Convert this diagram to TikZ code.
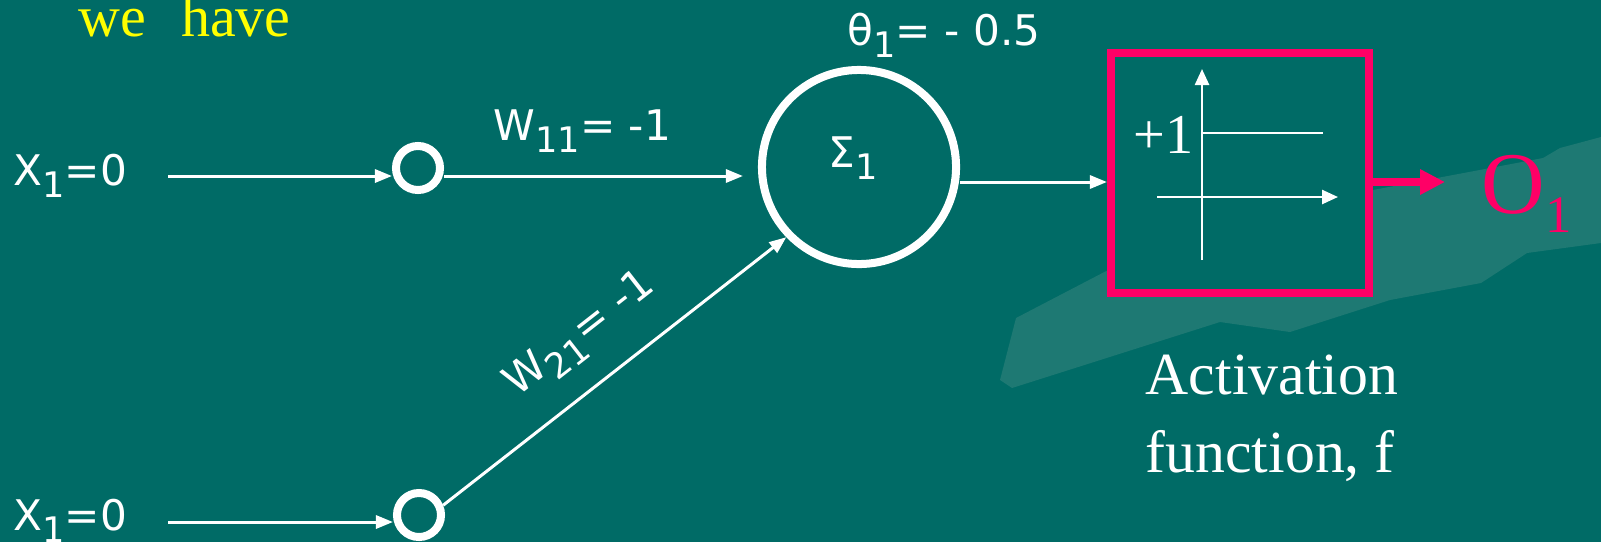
\documentclass[tikz,border=0pt]{standalone}
\usepackage{fontspec}
\setmainfont{Liberation Serif}
\setsansfont{DejaVu Sans}
\usetikzlibrary{arrows.meta, positioning, calc}

\definecolor{slidebg}{RGB}{0,107,102}
\definecolor{slidewave}{RGB}{30,121,115}
\definecolor{hotpink}{RGB}{255,0,102}
\definecolor{titleyellow}{RGB}{255,255,0}

\newcommand{\lowsub}[1]{\raisebox{-0.3em}{\fontsize{10}{12}\selectfont #1}}

\begin{document}
\begin{tikzpicture}[
  x=0.01cm, y=-0.01cm,
  every node/.style={text=white, inner sep=0pt},
  sanslab/.style={font=\fontsize{12}{14}\selectfont\sffamily},
  seriflab/.style={font=\fontsize{17}{22}\selectfont\rmfamily},
  wire/.style={white, line width=0.03cm, -{Triangle[length=0.17cm, width=0.13cm]}},
  axis/.style={white, line width=0.025cm},
  inpt/.style={circle, draw=white, line width=0.08cm, minimum size=0.44cm},
  neuron/.style={circle, draw=white, line width=0.08cm, minimum size=1.94cm},
  actbox/.style={draw=hotpink, fill=slidebg, line width=0.08cm, minimum width=2.58cm, minimum height=2.40cm},
  outarrow/.style={hotpink, line width=0.08cm, -{Triangle[length=0.25cm, width=0.24cm]}}
]

%% ---- Slide background ----
\useasboundingbox (0,0) rectangle (1601,542);
\fill[slidebg] (0,0) rectangle (1601,542);
\fill[slidewave] (1000,380) -- (1016,318) -- (1112,268) -- (1373,190) -- (1469,172)
  -- (1543,158) -- (1560,148) -- (1601,137) -- (1601,243) -- (1527,253)
  -- (1481,283) -- (1390,300) -- (1290,332) -- (1220,322) -- (1012,388) -- cycle;

%% ---- Title ----
\node[font=\fontsize{16.5}{19}\selectfont\rmfamily, text=titleyellow, anchor=base west]
  (title) at (78,36) {we\hspace{0.6em}have};

%% ---- Inputs ----
\node[sanslab, anchor=base west] (x1) at (13,185) {X\lowsub{1}=0};
\node[sanslab, anchor=base west] (x2) at (13,530) {X\lowsub{1}=0};
\coordinate (feed1) at (168,176);
\coordinate (feed2) at (168,522);

\node[inpt] (in1) at (418,168) {};
\node[inpt] (in2) at (419,515) {};

%% ---- Summing unit ----
\node[neuron] (sum) at (859,167) {};
\node[sanslab] (sigma) at (853,158) {Σ\lowsub{1}};
\node[sanslab, anchor=base west] (theta) at (847,45) {θ\lowsub{1}= - 0.5};

%% ---- Activation box ----
\node[actbox] (act) at (1240,173) {};
\draw[axis, -{Triangle[length=0.16cm, width=0.14cm]}] (1202,260) -- (1202,69);
\draw[axis, -{Triangle[length=0.16cm, width=0.14cm]}] (1157,197) -- (1338,197);
\draw[axis] (1202,133) -- (1323,133);
\node[font=\fontsize{16}{18}\selectfont\rmfamily, anchor=base east] (plusone) at (1194,153) {+1};
\node[seriflab, anchor=base west, align=left] (actlab) at (1145,472) {Activation\\function, f};

%% ---- Output ----
\coordinate (otip) at (1445,182);
\node[font=\fontsize{25}{28}\selectfont\rmfamily, text=hotpink, anchor=base west]
  (o1) at (1481,213) {O\raisebox{-0.22em}{\fontsize{15}{18}\selectfont 1}};

%% ---- Connectors ----
\draw[wire] (feed1) -- (feed1 -| in1.west);
\draw[wire] (feed2) -- (feed2 -| in2.west);
\draw[wire] (in1.east |- feed1) -- ([xshift=-0.15cm]sum.west |- feed1);
\node[sanslab, anchor=base west] (w11) at (493,140) {W\lowsub{11}= -1};
\draw[wire] (in2.22) -- node[sanslab, sloped, above=0.25cm, pos=0.49] (w21) {W\lowsub{21}= -1} (sum.224);
\draw[wire] ([yshift=-0.15cm]sum.east) -- ([yshift=-0.15cm]sum.east -| act.west);
\draw[outarrow] (act.east |- otip) -- (otip);

\end{tikzpicture}
\end{document}
